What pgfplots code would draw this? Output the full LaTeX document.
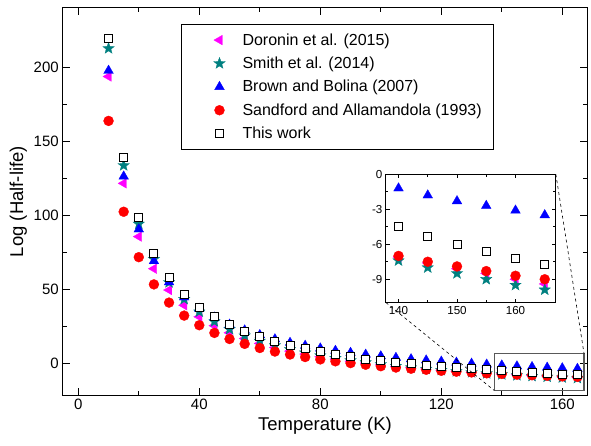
\documentclass[border=0pt]{standalone}
\usepackage{pgfplots}
\pgfplotsset{compat=1.18}
\usepackage{pgfplotstable}
\usepackage{fontspec}
\setmainfont{Liberation Sans}

\pgfdeclareplotmark{fstar}{%
  \pgfpathmoveto{\pgfpointpolar{90}{\pgfplotmarksize}}%
  \pgfpathlineto{\pgfpointpolar{126}{0.42\pgfplotmarksize}}%
  \pgfpathlineto{\pgfpointpolar{162}{\pgfplotmarksize}}%
  \pgfpathlineto{\pgfpointpolar{198}{0.42\pgfplotmarksize}}%
  \pgfpathlineto{\pgfpointpolar{234}{\pgfplotmarksize}}%
  \pgfpathlineto{\pgfpointpolar{270}{0.42\pgfplotmarksize}}%
  \pgfpathlineto{\pgfpointpolar{306}{\pgfplotmarksize}}%
  \pgfpathlineto{\pgfpointpolar{342}{0.42\pgfplotmarksize}}%
  \pgfpathlineto{\pgfpointpolar{18}{\pgfplotmarksize}}%
  \pgfpathlineto{\pgfpointpolar{54}{0.42\pgfplotmarksize}}%
  \pgfpathclose
  \pgfusepathqfillstroke
}

\pgfplotstableread{
T    dor    smi    bro    san    tw
10   194.0  213.0  198.0  164.0  220.0
15   121.8  133.9  126.5  102.6  139.2
20   85.8   94.4   90.8   71.9   98.8
25   64.1   70.6   69.3   53.5   74.6
30   49.7   54.8   55.0   41.2   58.4
35   39.4   43.5   44.8   32.4   46.9
40   31.6   35.0   37.1   25.9   38.2
45   25.6   28.4   31.2   20.7   31.5
50   20.8   23.2   26.4   16.6   26.1
55   16.9   18.8   22.5   13.3   21.7
60   13.6   15.3   19.3   10.5   18.0
65   10.8   12.2   16.5   8.1    14.9
70   8.4    9.6    14.1   6.1    12.2
75   6.4    7.3    12.1   4.4    9.9
80   4.6    5.4    10.3   2.8    7.9
85   3.0    3.6    8.7    1.5    6.1
90   1.6    2.1    7.3    0.3    4.5
95   0.3    0.7    6.1    -0.8   3.1
100  -0.9   -0.6   5.0    -1.8   1.8
105  -1.9   -1.7   3.9    -2.7   0.8
110  -2.8   -2.7   3.0    -3.5   -0.1
115  -3.7   -3.7   2.2    -4.2   -1.0
120  -4.5   -4.5   1.4    -4.9   -1.9
125  -5.2   -5.3   0.7    -5.5   -2.7
130  -5.9   -6.0   0.0    -6.0   -3.4
135  -6.5   -6.7   -0.6   -6.6   -4.0
140  -7.1   -7.4   -1.2   -7.0   -4.5
145  -7.6   -8.0   -1.8   -7.5   -5.3
150  -8.1   -8.5   -2.3   -7.9   -6.0
155  -8.5   -9.0   -2.7   -8.3   -6.6
160  -9.0   -9.5   -3.1   -8.7   -7.2
165  -9.4   -9.9   -3.5   -9.0   -7.7
}\data

\definecolor{mag}{RGB}{255,0,255}
\definecolor{tealc}{RGB}{0,128,128}
\definecolor{bluec}{RGB}{0,0,255}
\definecolor{redc}{RGB}{255,0,0}

\pgfplotsset{
  limg/.style={legend image code/.code={\path (-27.5pt,0pt) (20.5pt,0pt); \draw[##1] plot coordinates {(0pt,0pt)};}},
  sdor/.style={only marks, mark=triangle*, mark size=5.6pt, mark options={rotate=90, fill=mag, draw=mag, line width=0.3pt}, limg},
  ssmi/.style={only marks, mark=fstar, mark size=6pt, mark options={fill=tealc, draw=tealc, line width=0.3pt}, limg},
  sbro/.style={only marks, mark=triangle*, mark size=5.6pt, mark options={fill=bluec, draw=bluec, line width=0.3pt}, limg},
  ssan/.style={only marks, mark=*, mark size=5pt, mark options={fill=redc, draw=redc, line width=0.3pt}, limg},
  stw/.style={only marks, mark=square*, mark size=4pt, mark options={fill=white, draw=black, line width=0.9pt}, limg},
}

\begin{document}
\begin{tikzpicture}
\begin{axis}[
  name=main,
  scale only axis,
  width=525.7pt, height=388.7pt,
  xmin=-5.3, xmax=168.4, ymin=-21.8, ymax=240.8,
  xtick={0,40,...,160}, ytick={0,50,...,200},
  minor x tick num=1, minor y tick num=1,
  tick align=inside,
  major tick length=8pt, minor tick length=4.5pt,
  axis line style={line width=1.3pt},
  every tick/.style={line width=1.1pt, black},
  /pgf/number format/assume math mode=true,
  ticklabel style={font=\fontsize{15}{18}\selectfont},
  xlabel={Temperature (K)}, ylabel={Log (Half-life)},
  label style={font=\fontsize{18.5}{22}\selectfont},
  legend cell align=left,
  legend style={at={(0.2258,0.957)}, anchor=north west, font=\fontsize{16}{19}\selectfont,
    draw=black, line width=1.1pt, inner xsep=10pt, inner ysep=7pt, row sep=6.3pt},
]
\addplot[sdor] table[x=T,y=dor]{\data};
\addlegendentry{Doronin et al. (2015)}
\addplot[ssmi] table[x=T,y=smi]{\data};
\addlegendentry{Smith et al. (2014)}
\addplot[sbro] table[x=T,y=bro]{\data};
\addlegendentry{Brown and Bolina (2007)}
\addplot[ssan] table[x=T,y=san]{\data};
\addlegendentry{Sandford and Allamandola (1993)}
\addplot[stw] table[x=T,y=tw]{\data};
\addlegendentry{This work}
\draw[black!65, line width=1.2pt] (axis cs:137.5,-18.2) rectangle (axis cs:167.2,6.6);
\coordinate (zbl) at (axis cs:137.5,-18.2);
\coordinate (ztr) at (axis cs:167.2,6.6);
\coordinate (insp) at (axis cs:101.7,41.2);
\end{axis}
\path (main.north east) ++(3.3pt,7.3pt);
\path (main.south west) ++(-62.3pt,-50pt);
\begin{axis}[
  name=ins,
  at={(insp)}, anchor=south west,
  scale only axis,
  width=170pt, height=128.4pt,
  xmin=137.85, xmax=166.9, ymin=-11, ymax=0,
  xtick={140,150,160}, ytick={0,-3,-6,-9},
  minor x tick num=1, minor y tick num=1,
  tick align=inside,
  major tick length=4pt, minor tick length=2.5pt,
  axis background/.style={fill=white},
  axis line style={line width=0.9pt},
  every tick/.style={line width=0.8pt, black},
  /pgf/number format/assume math mode=true,
  ticklabel style={font=\fontsize{11.6}{14}\selectfont},
  restrict x to domain=138:167,
]
\addplot[sdor] table[x=T,y=dor]{\data};
\addplot[ssmi] table[x=T,y=smi]{\data};
\addplot[sbro] table[x=T,y=bro]{\data};
\addplot[ssan] table[x=T,y=san]{\data};
\addplot[stw] table[x=T,y=tw]{\data};
\end{axis}
\draw[dashed, line width=0.6pt] (ins.south west) -- (zbl);
\draw[dashed, line width=0.6pt] (ins.north east) -- (ztr);
\end{tikzpicture}
\end{document}
